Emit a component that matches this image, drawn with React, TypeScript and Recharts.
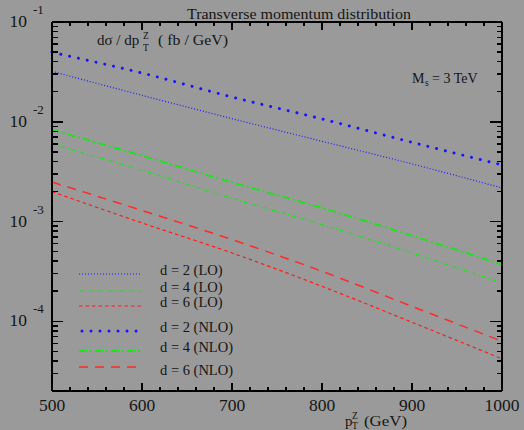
import React from "react";
import { LineChart, Line, XAxis, YAxis } from "recharts";

// p_T^Z in GeV
const pt = [500, 600, 700, 800, 900, 1000];

// d sigma / d p_T^Z (fb / GeV)
const d2LO = [0.032, 0.0184, 0.01074, 0.00637, 0.00378, 0.00217];
const d4LO = [0.006, 0.00326, 0.00171, 0.000931, 0.000484, 0.000243];
const d6LO = [0.00199, 0.000968, 0.000484, 0.000224, 0.0000977, 0.000042];
const d2NLO = [0.0496, 0.0308, 0.0177, 0.01067, 0.00622, 0.00369];
const d4NLO = [0.00834, 0.00457, 0.00247, 0.00137, 0.000722, 0.00037];
const d6NLO = [0.00249, 0.00129, 0.000659, 0.000317, 0.000141, 0.000063];

const xMajor = [500, 600, 700, 800, 900, 1000];
const xMinorStep = 20;
const yMajor = [1e-4, 1e-3, 1e-2, 1e-1];
const yMinorMult = [2, 3, 4, 5, 6, 7, 8, 9];
const yMinorExp = [-5, -4, -3, -2];

const BG = "#9a9a9a";
const INK = "#151515";
const SERIF = "'Liberation Serif', 'DejaVu Serif', serif";

const series = [
  { key: "d2LO", label: "d = 2 (LO)", color: "#1c1cff", width: 1.2, dash: "1 2", cap: "butt" },
  { key: "d4LO", label: "d = 4 (LO)", color: "#19e619", width: 1.2, dash: "4 2.5 1 2.5", cap: "butt" },
  { key: "d6LO", label: "d = 6 (LO)", color: "#ff1c1c", width: 1.2, dash: "3.5 3", cap: "butt" },
  { key: "d2NLO", label: "d = 2 (NLO)", color: "#1414ff", width: 3, dash: "0.01 9", cap: "round" },
  { key: "d4NLO", label: "d = 4 (NLO)", color: "#19e619", width: 1.8, dash: "8 3 2 3", cap: "butt" },
  { key: "d6NLO", label: "d = 6 (NLO)", color: "#ff2a2a", width: 1.5, dash: "9 7", cap: "butt" },
];

const values: Record<string, number[]> = { d2LO, d4LO, d6LO, d2NLO, d4NLO, d6NLO };

const rows = pt.map((p, i) => {
  const r: Record<string, number> = { pt: p };
  series.forEach((s) => (r[s.key] = values[s.key][i]));
  return r;
});

const xMinor: number[] = [];
for (let v = xMajor[0]; v <= xMajor[xMajor.length - 1]; v += xMinorStep) {
  if (!xMajor.includes(v)) xMinor.push(v);
}

const yMinor: number[] = [];
yMinorExp.forEach((e) => yMinorMult.forEach((m) => yMinor.push(m * Math.pow(10, e))));

const xDomain = [500, 1000];
const yDomain = [2e-5, 0.1];

// chart frame: margins plus axis sizes
const W = 524;
const H = 430;
const MARGIN = { top: 21, right: 21, bottom: 0, left: 0 };
const BOTTOM_H = 39;
const TOP_H = 1;
const LEFT_W = 52;
const RIGHT_W = 1;
const box = {
  left: MARGIN.left + LEFT_W,
  right: W - MARGIN.right - RIGHT_W,
  top: MARGIN.top + TOP_H,
  bottom: H - MARGIN.bottom - BOTTOM_H,
};

// the inward tick marks are drawn in the overlay, on the same frame and domains
const px = (v: number) => box.left + ((v - xDomain[0]) / (xDomain[1] - xDomain[0])) * (box.right - box.left);
const py = (v: number) =>
  box.top +
  ((Math.log10(yDomain[1]) - Math.log10(v)) / (Math.log10(yDomain[1]) - Math.log10(yDomain[0]))) *
    (box.bottom - box.top);

const BottomLabel = (props: any) => {
  const { x, y, payload } = props;
  return (
    <text x={x} y={y + 20} textAnchor="middle" fontSize={17.5} fontFamily={SERIF} fill={INK}>
      {payload.value}
    </text>
  );
};

const LeftLabel = (props: any) => {
  const { x, y, payload } = props;
  const e = Math.round(Math.log10(payload.value));
  return (
    <g fontFamily={SERIF} fill={INK}>
      <text x={x - 25} y={y + 5} textAnchor="end" fontSize={17.5}>10</text>
      <text x={x - 19} y={y - 8} textAnchor="start" fontSize={13}>{e}</text>
    </g>
  );
};

const axisLine = { stroke: "#000", strokeWidth: 2 };

const Ticks = () => (
  <g stroke="#000" strokeWidth={1.5} shapeRendering="crispEdges">
    {xMajor.map((v) => (
      <g key={`xM${v}`}>
        <line x1={px(v)} x2={px(v)} y1={box.bottom} y2={box.bottom - 8} />
        <line x1={px(v)} x2={px(v)} y1={box.top} y2={box.top + 8} />
      </g>
    ))}
    {xMinor.map((v) => (
      <g key={`xm${v}`}>
        <line x1={px(v)} x2={px(v)} y1={box.bottom} y2={box.bottom - 4} />
        <line x1={px(v)} x2={px(v)} y1={box.top} y2={box.top + 4} />
      </g>
    ))}
    {yMajor.map((v) => (
      <g key={`yM${v}`}>
        <line x1={box.left} x2={box.left + 11} y1={py(v)} y2={py(v)} />
        <line x1={box.right} x2={box.right - 12} y1={py(v)} y2={py(v)} />
      </g>
    ))}
    {yMinor.map((v) => (
      <g key={`ym${v}`}>
        <line x1={box.left} x2={box.left + 6} y1={py(v)} y2={py(v)} />
        <line x1={box.right} x2={box.right - 5} y1={py(v)} y2={py(v)} />
      </g>
    ))}
  </g>
);

export default function App() {
  return (
    <div style={{ position: "fixed", left: 0, top: 0, width: W, height: H, background: BG }}>
      <LineChart width={W} height={H} data={rows} margin={MARGIN}>
        <XAxis
          xAxisId="b"
          type="number"
          dataKey="pt"
          domain={xDomain}
          ticks={xMajor}
          interval={0}
          height={BOTTOM_H}
          tickSize={0}
          tickMargin={0}
          tickLine={false}
          axisLine={axisLine}
          tick={BottomLabel}
        />
        <XAxis
          xAxisId="t"
          orientation="top"
          type="number"
          dataKey="pt"
          domain={xDomain}
          ticks={xMajor}
          interval={0}
          height={TOP_H}
          tickSize={0}
          tickLine={false}
          tick={false}
          axisLine={axisLine}
        />
        <YAxis
          yAxisId="l"
          type="number"
          scale="log"
          domain={yDomain}
          ticks={yMajor}
          interval={0}
          width={LEFT_W}
          tickSize={0}
          tickMargin={0}
          tickLine={false}
          axisLine={axisLine}
          tick={LeftLabel}
        />
        <YAxis
          yAxisId="r"
          orientation="right"
          type="number"
          scale="log"
          domain={yDomain}
          ticks={yMajor}
          interval={0}
          width={RIGHT_W}
          tickSize={0}
          tickLine={false}
          tick={false}
          axisLine={axisLine}
        />
        {series.map((s) => (
          <Line
            key={s.key}
            xAxisId="b"
            yAxisId="l"
            type="monotone"
            dataKey={s.key}
            stroke={s.color}
            strokeWidth={s.width}
            strokeDasharray={s.dash}
            strokeLinecap={s.cap as any}
            dot={false}
            activeDot={false}
            isAnimationActive={false}
          />
        ))}
      </LineChart>
      <svg
        width={W}
        height={H}
        style={{ position: "absolute", left: 0, top: 0, pointerEvents: "none" }}
        fontFamily={SERIF}
        fill={INK}
      >
        <Ticks />

        <text x={187} y={19} fontSize={15} textLength={224} lengthAdjust="spacingAndGlyphs">
          Transverse momentum distribution
        </text>

        <text x={97} y={45} fontSize={15}>dσ / dp</text>
        <text x={143} y={39} fontSize={9.5}>Z</text>
        <text x={143} y={51} fontSize={9.5}>T</text>
        <text x={158} y={45} fontSize={15} textLength={70} lengthAdjust="spacingAndGlyphs">( fb / GeV)</text>

        <text x={412} y={83} fontSize={14}>M</text>
        <text x={425} y={86} fontSize={9.5}>s</text>
        <text x={432} y={83} fontSize={14}>= 3 TeV</text>

        <text x={345} y={426} fontSize={15}>p</text>
        <text x={352} y={419} fontSize={9.5}>Z</text>
        <text x={352} y={429} fontSize={9.5}>T</text>
        <text x={364} y={426} fontSize={15} textLength={43} lengthAdjust="spacingAndGlyphs">(GeV)</text>

        {series.map((s, i) => {
          const ly = [274, 291, 306, 331, 351, 367][i];
          const ty = [275, 292, 307, 332, 352, 375][i];
          return (
            <g key={s.key}>
              <line
                x1={i === 3 ? 82 : 79}
                x2={142}
                y1={ly}
                y2={ly}
                stroke={s.color}
                strokeWidth={s.width}
                strokeDasharray={s.dash}
                strokeLinecap={s.cap as any}
              />
              <text x={160} y={ty} fontSize={14.5}>{s.label}</text>
            </g>
          );
        })}
      </svg>
    </div>
  );
}
